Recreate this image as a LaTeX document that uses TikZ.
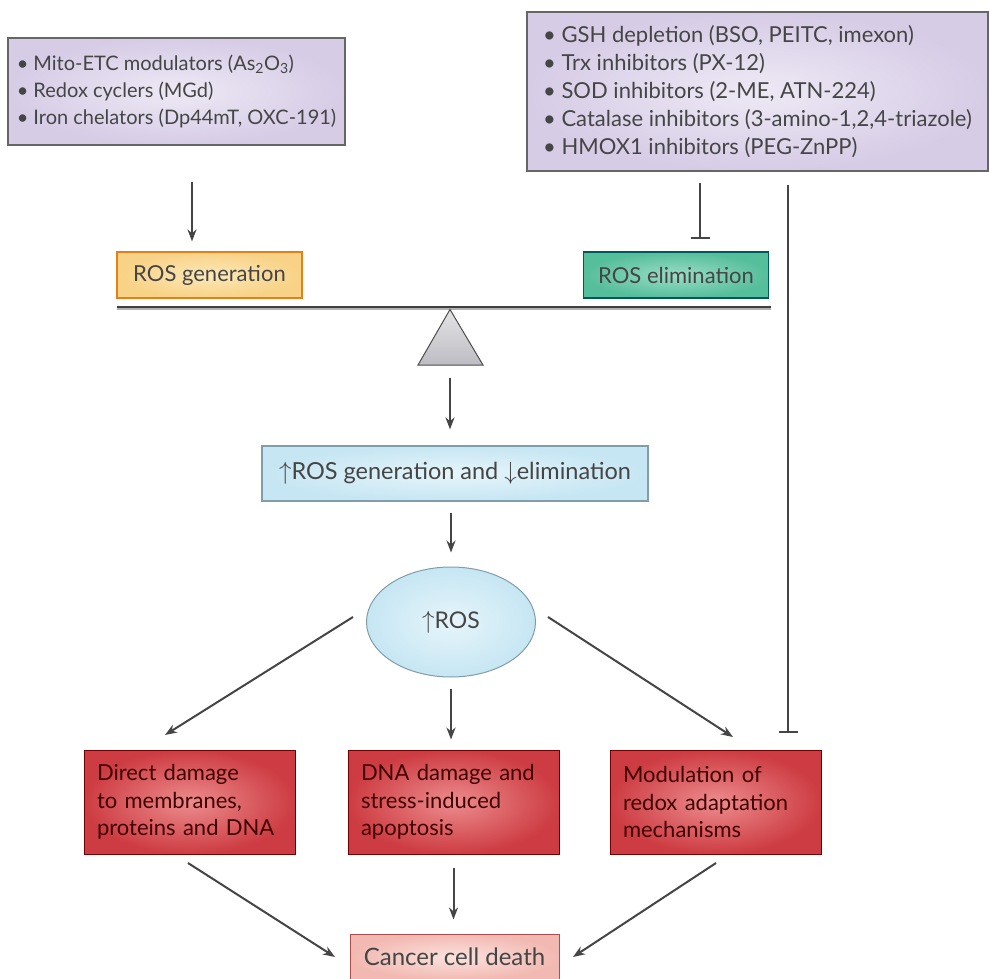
\documentclass[tikz,border=0pt]{standalone}
\usepackage{fontspec}
\setmainfont{Lato}
\usetikzlibrary{arrows.meta,shapes.geometric}
\definecolor{inkgray}{HTML}{454545}
\definecolor{lilacin}{HTML}{EEE9F5}
\definecolor{lilacout}{HTML}{D6CCE6}
\definecolor{orangein}{HTML}{FDE8B8}
\definecolor{orangeout}{HTML}{F8D286}
\definecolor{tealin}{HTML}{9ADDC6}
\definecolor{tealout}{HTML}{55BE9B}
\definecolor{bluein}{HTML}{E6F5FB}
\definecolor{blueout}{HTML}{C6E6F3}
\definecolor{redin}{HTML}{EC8C8E}
\definecolor{redout}{HTML}{CD3C42}
\definecolor{pinkin}{HTML}{FBE2DE}
\definecolor{pinkout}{HTML}{F2B9B2}
\tikzset{
  drugbox/.style={draw=gray!80!black, line width=1.2pt, inner color=lilacin, outer color=lilacout,
    align=left, text=inkgray},
  balancebox/.style={line width=1.2pt, minimum width=185pt, minimum height=46pt, text=inkgray,
    font=\fontsize{22}{26}\selectfont},
  effectbox/.style={draw=red!45!black, line width=1pt, inner color=redin, outer color=redout,
    minimum height=104pt, text width=185pt, inner xsep=13pt, align=left, text=black!75!red,
    font=\fontsize{22}{27.5}\selectfont},
  arr/.style={->, line width=2pt, draw=inkgray},
  blocked/.style={-{Bar[width=19pt,line width=2pt]}, line width=2pt, draw=inkgray},
}
\begin{document}
\begin{tikzpicture}[x=1pt, y=-1pt, >={Stealth[length=12pt,width=9pt]}]
\useasboundingbox (0,0) rectangle (989,979);
% agents
\node[drugbox, minimum width=337pt, minimum height=107pt, font=\fontsize{20}{27}\selectfont] (etc) at (176.5,91.5)
  {\textbullet\ Mito-ETC modulators (As\textsubscript{2}O\textsubscript{3})\\
   \textbullet\ Redox cyclers (MGd)\\
   \textbullet\ Iron chelators (Dp44mT, OXC-191)};
\node[drugbox, minimum width=461pt, minimum height=159pt, font=\fontsize{22}{28}\selectfont] (gsh) at (757.5,91.5)
  {\textbullet\ GSH depletion (BSO, PEITC, imexon)\\
   \textbullet\ Trx inhibitors (PX-12)\\
   \textbullet\ SOD inhibitors (2-ME, ATN-224)\\
   \textbullet\ Catalase inhibitors (3-amino-1,2,4-triazole)\\
   \textbullet\ HMOX1 inhibitors (PEG-ZnPP)};
% balance
\node[balancebox, draw=orange!60!brown, inner color=orangein, outer color=orangeout] (gen) at (209.5,275) {ROS generation};
\node[balancebox, draw=teal!70!black, inner color=tealin, outer color=tealout] (elim) at (676,275) {ROS elimination};
\coordinate (bl) at (117,307);
\coordinate (br) at (771,307);
\draw[line width=2pt, gray!60] ([yshift=-2pt]bl) -- ([yshift=-2pt]br);
\draw[line width=2.6pt, black!75] (bl) -- (br);
\coordinate (apex) at (450,309.5);
\draw[gray!60!black, line width=1pt, top color=blue!5!gray!20, bottom color=blue!5!gray!50] (apex) -- (418,365) -- (483,365) -- cycle;
\node[draw=cyan!25!gray, line width=1.2pt, inner color=bluein, outer color=blueout, minimum width=386pt,
  minimum height=55pt, text=inkgray, font=\fontsize{23.5}{27}\selectfont] (shift) at (455,473.5)
  {$\uparrow$ROS generation and $\downarrow$elimination};
\node[ellipse, draw=cyan!25!gray, line width=1pt, inner color=bluein, outer color=blueout, minimum width=169pt,
  minimum height=110pt, text=inkgray, font=\fontsize{23}{27}\selectfont] (ros) at (451,622) {$\uparrow$ROS};
% outcomes
\node[effectbox] (direct) at (189.5,802) {Direct damage\\to membranes,\\proteins and DNA};
\node[effectbox] (dna) at (453.5,802) {DNA damage and\\stress-induced\\apoptosis};
\node[effectbox] (adapt) at (715.5,802) {Modulation of\\redox adaptation\\mechanisms};
\node[draw=red!40!gray, line width=1pt, inner color=pinkin, outer color=pinkout, minimum width=209pt,
  minimum height=46pt, text=inkgray, font=\fontsize{24}{28}\selectfont] (death) at (454.5,957) {Cancer cell death};
% connectors
\coordinate (a1) at (192,182);
\draw[arr] (a1) -- (a1 |- gen.north) [shorten >=10pt];
\coordinate (b1) at (700,183);
\draw[blocked, shorten >=12pt] (b1) -- (b1 |- elim.north);
\coordinate (b2) at (788,185);
\draw[blocked, shorten >=17pt] (b2) -- (b2 |- adapt.north);
\draw[arr, shorten <=68pt, shorten >=16pt] (apex) -- (apex |- shift.north);
\draw[arr, shorten <=11pt, shorten >=14pt] (ros.north |- shift.south) -- (ros.north);
\draw[arr] (353,617) -- (165,735);
\draw[arr, shorten <=11pt, shorten >=10pt] (ros.south) -- (ros.south |- dna.north);
\draw[arr] (548,617) -- (733,737);
\draw[arr] (188,863) -- (335,957);
\draw[arr, shorten <=13pt, shorten >=14pt] (dna.south) -- (dna.south |- death.north);
\draw[arr] (716,863) -- (573,957);
\end{tikzpicture}
\end{document}
